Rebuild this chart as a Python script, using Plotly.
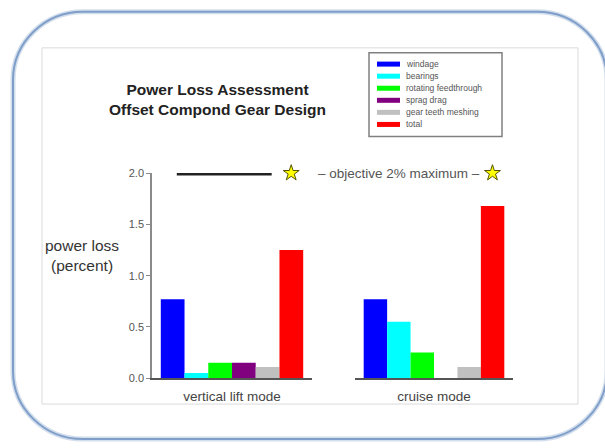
import plotly.graph_objects as go

# ---- data ----
modes = ["vertical lift mode", "cruise mode"]
series_names = ["windage", "bearings", "rotating feedthrough",
                "sprag drag", "gear teeth meshing", "total"]
series_colors = ["#0000ff", "#00ffff", "#00ff00", "#800080", "#c0c0c0", "#ff0000"]
windage = [0.77, 0.77]
bearings = [0.05, 0.55]
rotating_feedthrough = [0.15, 0.25]
sprag_drag = [0.15, 0.0]
gear_teeth_meshing = [0.11, 0.11]
total = [1.25, 1.68]
series_values = [windage, bearings, rotating_feedthrough,
                 sprag_drag, gear_teeth_meshing, total]
objective_max = 2.0
y_ticks = [0.0, 0.5, 1.0, 1.5, 2.0]

W, H = 605, 448
FONT = "Liberation Sans, Arial, sans-serif"


def px(x):
    return x / W


def py(y):
    return 1 - y / H


def rounded_rect_path(x0, y0, x1, y1, r):
    k = 0.5523 * r
    pts = [
        ("M", [(x0 + r, y0)]),
        ("L", [(x1 - r, y0)]),
        ("C", [(x1 - r + k, y0), (x1, y0 + r - k), (x1, y0 + r)]),
        ("L", [(x1, y1 - r)]),
        ("C", [(x1, y1 - r + k), (x1 - r + k, y1), (x1 - r, y1)]),
        ("L", [(x0 + r, y1)]),
        ("C", [(x0 + r - k, y1), (x0, y1 - r + k), (x0, y1 - r)]),
        ("L", [(x0, y0 + r)]),
        ("C", [(x0, y0 + r - k), (x0 + r - k, y0), (x0 + r, y0)]),
    ]
    s = ""
    for cmd, coords in pts:
        s += cmd + " " + " ".join(f"{px(a):.5f},{py(b):.5f}" for a, b in coords) + " "
    return s + "Z"


fig = go.Figure()

axes = [("x", "y"), ("x2", "y2")]
for m, mode in enumerate(modes):
    xa, ya = axes[m]
    for name, color, vals in zip(series_names, series_colors, series_values):
        fig.add_trace(go.Bar(
            x=[0], y=[vals[m]], name=name, marker=dict(color=color, line=dict(width=0)),
            xaxis=xa, yaxis=ya, showlegend=False, hoverinfo="name+y"))
    # objective marker star
    fig.add_trace(go.Scatter(
        x=[0.37], y=[objective_max], mode="markers", xaxis=xa, yaxis=ya,
        marker=dict(symbol="star", size=12, color="#ffff00",
                    line=dict(color="#555500", width=1)),
        cliponaxis=False, showlegend=False, hoverinfo="skip"))

shapes = []
# outer rounded frame
shapes.append(dict(type="path", xref="paper", yref="paper",
                   path=rounded_rect_path(13, 6, 607, 445, 70),
                   line=dict(color="#d3deec", width=5), layer="below"))
shapes.append(dict(type="path", xref="paper", yref="paper",
                   path=rounded_rect_path(13, 6, 607, 445, 70),
                   line=dict(color="#7f9fca", width=2), layer="below"))
# inner panel
shapes.append(dict(type="rect", xref="paper", yref="paper",
                   x0=px(42), x1=px(578), y0=py(409), y1=py(43),
                   line=dict(color="#dadada", width=1), fillcolor="white", layer="below"))
# legend box
shapes.append(dict(type="rect", xref="paper", yref="paper",
                   x0=px(369), x1=px(502), y0=py(134), y1=py(48),
                   line=dict(color="#808080", width=1.5), fillcolor="white", layer="below"))
# objective line
shapes.append(dict(type="line", xref="x domain", yref="y",
                   x0=0.155, x1=0.748, y0=objective_max, y1=objective_max,
                   line=dict(color="#222222", width=5)))

annotations = []
# legend entries
row0, row_step = 59.7, 12.4
for i, (name, color) in enumerate(zip(series_names, series_colors)):
    yy = row0 + i * row_step
    shapes.append(dict(type="line", xref="paper", yref="paper",
                       x0=px(377), x1=px(400), y0=py(yy), y1=py(yy),
                       line=dict(color=color, width=5)))
    annotations.append(dict(xref="paper", yref="paper", x=px(404), y=py(yy),
                            xanchor="left", yanchor="middle", text=name, showarrow=False,
                            font=dict(family=FONT, size=8.5, color="#555555")))

annotations.append(dict(xref="paper", yref="paper", x=px(217), y=py(96),
                        text="<b>Power Loss Assessment<br>Offset Compond Gear Design</b>",
                        showarrow=False, xanchor="center", yanchor="middle",
                        font=dict(family=FONT, size=15.5, color="#222222")))
annotations.append(dict(xref="paper", yref="paper", x=px(82), y=py(256),
                        text="power loss<br>(percent)", showarrow=False,
                        xanchor="center", yanchor="middle",
                        font=dict(family=FONT, size=15.5, color="#333333")))
annotations.append(dict(xref="paper", yref="y", x=px(316), y=objective_max,
                        text="\u2013 objective 2% maximum \u2013", showarrow=False,
                        xanchor="left", yanchor="middle",
                        font=dict(family=FONT, size=13.5, color="#555555")))

ydom = [py(382.5), py(171.7)]
xaxis_common = dict(type="linear", range=[-0.5, 0.5], tickvals=[0], showgrid=False,
                    zeroline=False, showline=True, linecolor="#555555", linewidth=2,
                    ticks="", fixedrange=True, ticklabelstandoff=5,
                    tickfont=dict(family=FONT, size=13.5, color="#444444"))

fig.update_layout(
    width=W, height=H,
    margin=dict(l=0, r=0, t=0, b=0),
    paper_bgcolor="white", plot_bgcolor="rgba(0,0,0,0)",
    barmode="group", bargap=0.11, bargroupgap=0,
    showlegend=False,
    shapes=shapes, annotations=annotations,
    xaxis=dict(domain=[px(152), px(312)], anchor="y", ticktext=[modes[0]], **xaxis_common),
    xaxis2=dict(domain=[px(355), px(513)], anchor="y2", ticktext=[modes[1]], **xaxis_common),
    yaxis=dict(domain=ydom, range=[0, 2.0], tickvals=y_ticks,
               ticktext=[f"{v:.1f}" for v in y_ticks], showgrid=False, zeroline=False,
               showline=True, linecolor="#8a8a8a", linewidth=1.5,
               ticks="outside", ticklen=4, tickcolor="#8a8a8a", tickwidth=1,
               tickfont=dict(family=FONT, size=11, color="#555555"), fixedrange=True),
    yaxis2=dict(domain=ydom, range=[0, 2.0], matches="y", visible=False, anchor="x2"),
)

fig.write_html("out.html")
